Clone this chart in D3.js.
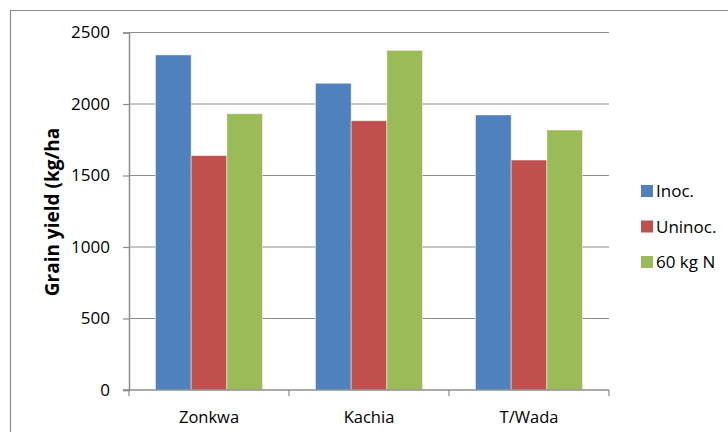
<!DOCTYPE html>
<html>
<head>
<meta charset="utf-8">
<script src="https://cdn.jsdelivr.net/npm/d3@7"></script>
<style>
  body { margin: 0; background: #fff; }
  svg text { font-family: "Open Sans", "Liberation Sans", sans-serif; fill: #000; }
</style>
</head>
<body>
<div id="chart"></div>
<script>
// sites and treatments
var sites = ['Zonkwa', 'Kachia', 'T/Wada'];
var treatments = ['Inoc.', 'Uninoc.', '60 kg N'];
var inocValues = [2343, 2145, 1923];
var uninocValues = [1639, 1883, 1608];
var nitrogenValues = [1932, 2375, 1818];
var yTicks = [0, 500, 1000, 1500, 2000, 2500];
var colors = ['#4f81bd', '#c0504d', '#9bbb59'];

var width = 728,
    height = 432,
    margin = { left: 129, right: 119, top: 32.5, bottom: 42 };

var series = [inocValues, uninocValues, nitrogenValues];

var svg = d3.select('#chart').append('svg')
    .attr('width', width)
    .attr('height', height);

// outer chart border (runs off right and bottom)
svg.append('path')
    .attr('d', 'M10.5,' + height + 'V10.5H' + width)
    .attr('fill', 'none')
    .attr('stroke', '#8c8c8c')
    .attr('stroke-width', 1.2);

var x = d3.scaleBand()
    .domain(sites)
    .range([margin.left, width - margin.right])
    .paddingInner(0)
    .paddingOuter(0);

var x1 = d3.scaleBand()
    .domain(treatments)
    .range([26.5, x.bandwidth() - 26.5]);

var y = d3.scaleLinear()
    .domain([0, 2500])
    .range([height - margin.bottom, margin.top]);

// gridlines
svg.append('g')
    .selectAll('line')
    .data(yTicks.slice(1))
    .enter()
    .append('line')
    .attr('x1', margin.left)
    .attr('x2', width - margin.right)
    .attr('y1', function (d) { return y(d); })
    .attr('y2', function (d) { return y(d); })
    .attr('stroke', '#8c8c8c')
    .attr('stroke-width', 1.2);

// bars
var groups = svg.append('g')
    .selectAll('g')
    .data(sites)
    .enter()
    .append('g')
    .attr('transform', function (d) { return 'translate(' + x(d) + ',0)'; });

groups.selectAll('rect')
    .data(function (d, i) {
        return treatments.map(function (t, j) { return { t: t, v: series[j][i], c: colors[j] }; });
    })
    .enter()
    .append('rect')
    .attr('x', function (d) { return x1(d.t); })
    .attr('width', x1.bandwidth())
    .attr('y', function (d) { return y(d.v); })
    .attr('height', function (d) { return y(0) - y(d.v); })
    .attr('fill', function (d) { return d.c; })
    .attr('stroke', 'rgba(255,255,255,0.45)')
    .attr('stroke-width', 1);

// y axis
var yAxis = svg.append('g')
    .attr('transform', 'translate(' + margin.left + ',0)')
    .call(d3.axisLeft(y).tickValues(yTicks).tickSize(6).tickPadding(13).tickFormat(d3.format('d')));
yAxis.select('.domain').attr('stroke', '#8c8c8c').attr('stroke-width', 1.5);
yAxis.selectAll('.tick line').attr('stroke', '#8c8c8c').attr('stroke-width', 1.2);
yAxis.selectAll('.tick text').style('font-size', '17px');

// x axis
var xAxis = svg.append('g')
    .attr('transform', 'translate(0,' + y(0) + ')');
xAxis.append('line')
    .attr('x1', margin.left - 6)
    .attr('x2', width - margin.right)
    .attr('stroke', '#8c8c8c')
    .attr('stroke-width', 1.5);
xAxis.selectAll('.sep')
    .data(sites.map(function (d) { return x(d); }).concat([x(sites[2]) + x.bandwidth()]))
    .enter()
    .append('line')
    .attr('class', 'sep')
    .attr('x1', function (d) { return d; })
    .attr('x2', function (d) { return d; })
    .attr('y1', 0)
    .attr('y2', 6)
    .attr('stroke', '#8c8c8c')
    .attr('stroke-width', 1.2);
xAxis.selectAll('.lbl')
    .data(sites)
    .enter()
    .append('text')
    .attr('class', 'lbl')
    .attr('x', function (d) { return x(d) + x.bandwidth() / 2; })
    .attr('y', 33)
    .attr('text-anchor', 'middle')
    .style('font-size', '16.5px')
    .text(function (d) { return d; });

// y axis title
svg.append('text')
    .attr('transform', 'translate(59,212) rotate(-90)')
    .attr('text-anchor', 'middle')
    .style('font-size', '19px')
    .style('font-weight', 'bold')
    .text('Grain yield (kg/ha');

// legend
var legend = svg.append('g')
    .attr('transform', 'translate(641,0)');
var rows = legend.selectAll('g')
    .data(treatments)
    .enter()
    .append('g')
    .attr('transform', function (d, i) { return 'translate(0,' + (191 + i * 35.5) + ')'; });
rows.append('rect')
    .attr('x', 0)
    .attr('y', -6)
    .attr('width', 12)
    .attr('height', 12)
    .attr('fill', function (d, i) { return colors[i]; });
rows.append('text')
    .attr('x', 15)
    .attr('y', 6)
    .style('font-size', '17px')
    .text(function (d) { return d; });
</script>
</body>
</html>
